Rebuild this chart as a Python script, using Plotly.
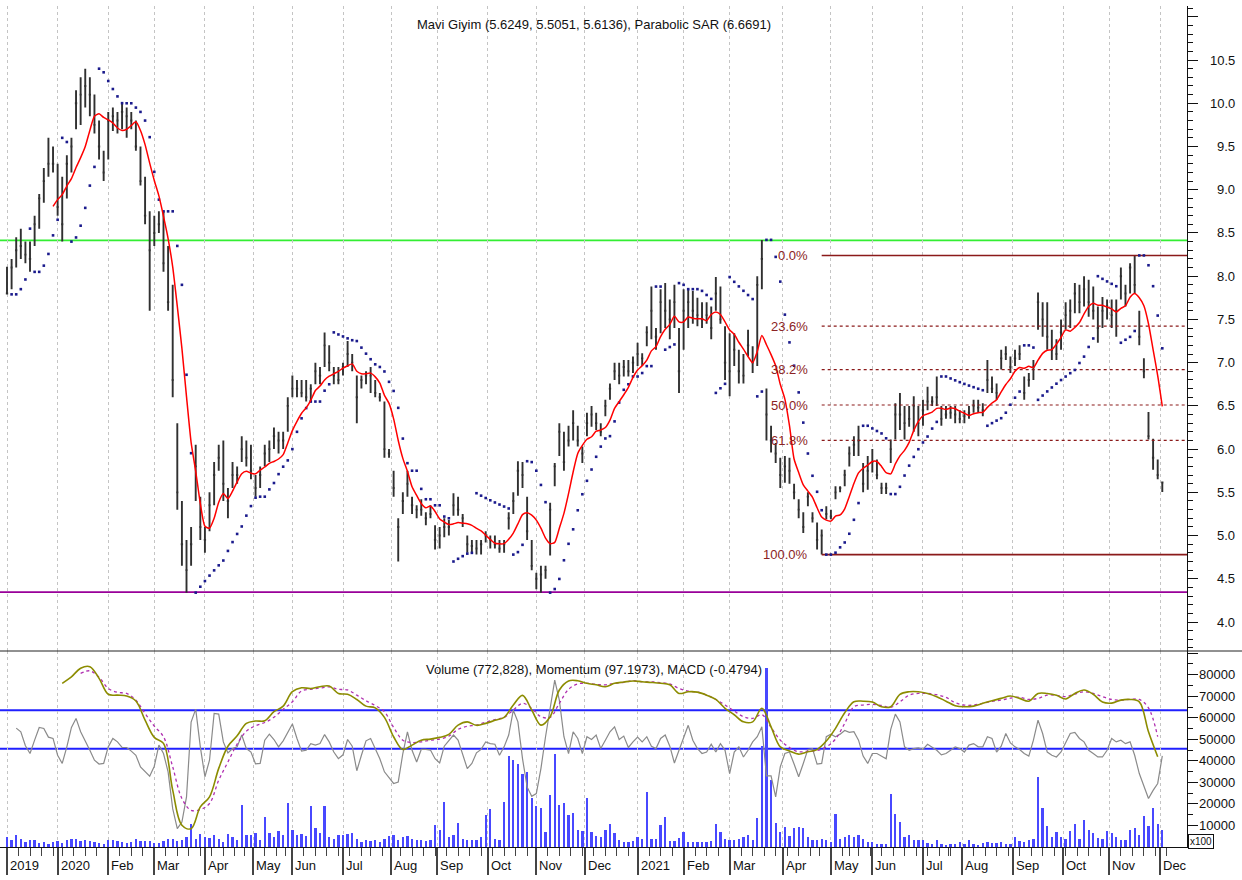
import numpy as np
import pandas as pd
import plotly.graph_objects as go

# ---------------- calendar (Borsa Istanbul trading days) ----------------
market_holidays = ["2020-01-01", "2020-04-23", "2020-05-01", "2020-05-19", "2020-05-25", "2020-05-26",
                   "2020-07-15", "2020-07-31", "2020-08-03", "2020-10-29", "2021-01-01", "2021-04-23",
                   "2021-05-13", "2021-05-14", "2021-05-19", "2021-07-15", "2021-07-20", "2021-07-21",
                   "2021-07-22", "2021-07-23", "2021-10-29"]
cal = pd.bdate_range("2019-12-02", "2021-12-10")
cal = cal[~cal.isin(pd.to_datetime(market_holidays))]
day_index = pd.Series(np.arange(len(cal)), index=cal)

month_labels = ["2019", "2020", "Feb", "Mar", "Apr", "May", "Jun", "Jul", "Aug", "Sep", "Oct", "Nov", "Dec",
                "2021", "Feb", "Mar", "Apr", "May", "Jun", "Jul", "Aug", "Sep", "Oct", "Nov", "Dec"]

# ---------------- price data (one bar every second trading day) ----------------
high = [8.11, 8.2, 8.45, 8.55, 8.4, 8.4, 8.7, 8.95, 9.25, 9.6,
        9.5, 9.3, 9.15, 9.4, 9.6, 10.15, 10.3, 10.4, 10.3, 10.1,
        9.8, 9.45, 9.9, 9.95, 9.9, 10.0, 9.95, 9.9, 9.8, 9.5,
        9.15, 8.75, 8.7, 8.75, 8.75, 8.35, 7.9, 6.3, 5.4, 4.95,
        5.1, 6.05, 5.45, 5.1, 5.5, 5.85, 6.05, 6.1, 5.55, 5.85,
        5.8, 6.15, 6.1, 6.05, 5.7, 5.8, 6.05, 6.1, 6.25, 6.2,
        6.2, 6.6, 6.85, 6.8, 6.8, 6.8, 6.75, 7.0, 6.95, 7.35,
        7.2, 6.95, 6.95, 7.0, 7.25, 7.1, 6.85, 6.85, 6.9, 6.95,
        6.8, 6.65, 6.55, 6.0, 5.75, 5.2, 5.5, 5.75, 5.45, 5.35,
        5.42, 5.27, 5.35, 5.12, 5.1, 5.2, 5.18, 5.49, 5.45, 5.25,
        5.0, 4.95, 4.95, 4.95, 5.05, 5.0, 5.0, 4.95, 4.95, 5.27,
        5.5, 5.86, 5.85, 5.45, 4.95, 4.57, 4.65, 4.65, 5.38, 5.84,
        6.3, 6.2, 6.27, 6.45, 6.27, 6.03, 6.42, 6.5, 6.42, 6.3,
        6.57, 6.76, 7.0, 7.0, 7.03, 7.03, 7.07, 7.23, 7.11, 7.42,
        7.88, 7.4, 7.85, 7.92, 7.73, 7.9, 7.4, 7.85, 7.85, 7.83,
        7.75, 7.7, 7.7, 7.65, 7.99, 7.88, 7.42, 7.34, 7.34, 7.15,
        7.1, 7.38, 7.19, 8.0, 8.42, 6.7, 6.27, 6.07, 5.9, 5.92,
        5.9, 5.6, 5.42, 5.27, 5.5, 5.27, 5.15, 5.07, 5.34, 5.3,
        5.57, 5.57, 5.76, 6.03, 6.15, 6.27, 5.84, 5.92, 6.0, 5.88,
        5.61, 5.61, 6.11, 6.53, 6.65, 6.5, 6.5, 6.61, 6.5, 6.57,
        6.72, 6.61, 6.84, 6.5, 6.5, 6.5, 6.5, 6.45, 6.45, 6.5,
        6.57, 6.57, 6.53, 7.03, 6.84, 6.76, 7.15, 7.19, 7.07, 7.15,
        7.2, 6.84, 6.88, 7.03, 7.81, 7.7, 7.7, 7.38, 7.27, 7.5,
        7.7, 7.73, 7.92, 7.9, 8.0, 7.96, 7.88, 7.65, 7.76, 7.73,
        7.73, 7.73, 8.1, 7.9, 8.15, 8.24, 7.6, 7.05, 6.43, 6.12,
        5.88, 5.6249]

low = [7.79, 7.85, 8.1, 8.2, 8.15, 8.05, 8.35, 8.55, 8.85, 9.15,
       9.2, 8.7, 8.4, 8.9, 9.2, 9.7, 9.75, 9.95, 9.85, 9.65,
       9.35, 9.1, 9.35, 9.68, 9.65, 9.7, 9.6, 9.7, 9.45, 9.05,
       8.6, 7.6, 8.35, 8.5, 8.05, 7.6, 6.6, 5.3, 4.65, 4.34,
       4.65, 5.4, 4.95, 4.8, 5.05, 5.35, 5.75, 5.4, 5.2, 5.55,
       5.6, 5.85, 5.8, 5.65, 5.45, 5.55, 5.8, 5.85, 6.0, 5.95,
       6.0, 6.2, 6.6, 6.6, 6.6, 6.55, 6.55, 6.75, 6.75, 6.95,
       6.9, 6.75, 6.75, 6.85, 6.95, 6.9, 6.3, 6.7, 6.75, 6.65,
       6.6, 6.55, 5.9, 5.9, 5.45, 4.7, 5.25, 5.45, 5.25, 5.2,
       5.23, 5.12, 5.2, 4.84, 4.85, 4.98, 5.0, 5.23, 5.23, 5.1,
       4.8, 4.8, 4.78, 4.78, 4.92, 4.85, 4.85, 4.8, 4.8, 5.07,
       5.25, 5.46, 5.55, 4.95, 4.6, 4.38, 4.34, 4.5, 4.77, 5.57,
       5.92, 5.75, 6.03, 6.1, 6.03, 5.84, 6.15, 6.26, 6.22, 6.15,
       6.38, 6.57, 6.8, 6.75, 6.84, 6.84, 6.88, 6.96, 6.96, 7.19,
       7.27, 7.15, 7.34, 7.4, 7.27, 7.4, 6.65, 7.15, 7.4, 7.45,
       7.42, 7.4, 7.45, 7.27, 7.6, 7.45, 6.8, 6.61, 6.96, 6.76,
       6.76, 7.07, 6.88, 6.96, 7.85, 6.1, 5.96, 5.84, 5.55, 5.61,
       5.6, 5.42, 5.2, 5.03, 5.34, 5.15, 4.84, 4.78, 5.19, 5.19,
       5.42, 5.5, 5.57, 5.8, 5.92, 5.92, 5.5, 5.53, 5.73, 5.65,
       5.48, 5.48, 5.84, 6.11, 6.22, 6.11, 6.26, 6.2, 6.15, 6.27,
       6.45, 6.5, 6.5, 6.27, 6.35, 6.35, 6.3, 6.3, 6.3, 6.35,
       6.42, 6.42, 6.38, 6.65, 6.65, 6.57, 6.92, 7.03, 6.88, 6.96,
       7.03, 6.57, 6.72, 6.8, 7.38, 7.3, 7.15, 7.03, 7.03, 7.15,
       7.38, 7.4, 7.57, 7.57, 7.65, 7.53, 7.5, 7.23, 7.4, 7.5,
       7.4, 7.3, 7.73, 7.65, 7.8, 7.8, 7.2, 6.82, 6.11, 5.76,
       5.65, 5.5051]

close = [7.8, 8.1, 8.3, 8.35, 8.25, 8.2, 8.6, 8.9, 9.1, 9.3,
         9.3, 8.8, 8.6, 9.3, 9.5, 10.0, 10.1, 10.2, 10.1, 9.75,
         9.5, 9.2, 9.8, 9.85, 9.8, 9.9, 9.85, 9.8, 9.5, 9.1,
         8.7, 8.3, 8.5, 8.6, 8.15, 7.7, 6.8, 5.5, 4.9, 4.6,
         4.9, 5.8, 5.1, 4.95, 5.35, 5.7, 5.9, 5.6, 5.4, 5.7,
         5.7, 6.0, 5.9, 5.75, 5.55, 5.7, 5.95, 6.0, 6.15, 6.1,
         6.1, 6.5, 6.7, 6.7, 6.65, 6.6, 6.7, 6.9, 6.85, 7.2,
         7.0, 6.85, 6.8, 6.95, 7.1, 7.0, 6.6, 6.8, 6.85, 6.85,
         6.65, 6.6, 6.0, 5.95, 5.55, 5.1, 5.4, 5.6, 5.35, 5.3,
         5.3, 5.2, 5.25, 4.95, 5.0, 5.1, 5.1, 5.35, 5.3, 5.2,
         4.9, 4.88, 4.85, 4.9, 5.0, 4.95, 4.9, 4.85, 4.9, 5.2,
         5.4, 5.75, 5.7, 5.05, 4.65, 4.5, 4.55, 4.6, 5.3, 5.8,
         6.2, 5.85, 6.1, 6.3, 6.1, 5.95, 6.3, 6.4, 6.3, 6.2,
         6.5, 6.7, 6.9, 6.85, 6.95, 6.9, 7.0, 7.1, 7.05, 7.35,
         7.6, 7.3, 7.7, 7.6, 7.5, 7.7, 6.9, 7.6, 7.7, 7.6,
         7.55, 7.5, 7.55, 7.4, 7.8, 7.5, 7.0, 6.9, 7.15, 6.9,
         6.85, 7.2, 7.0, 7.9, 8.2, 6.4, 6.1, 5.95, 5.7, 5.8,
         5.75, 5.5, 5.3, 5.1, 5.45, 5.2, 4.95, 5.0, 5.25, 5.22,
         5.5, 5.55, 5.7, 5.95, 6.05, 6.1, 5.6, 5.75, 5.85, 5.7,
         5.55, 5.55, 6.0, 6.4, 6.4, 6.3, 6.35, 6.5, 6.3, 6.45,
         6.55, 6.55, 6.6, 6.35, 6.4, 6.42, 6.4, 6.35, 6.38, 6.42,
         6.5, 6.48, 6.45, 6.8, 6.7, 6.65, 7.05, 7.1, 6.95, 7.05,
         7.1, 6.65, 6.8, 6.95, 7.7, 7.5, 7.3, 7.15, 7.1, 7.35,
         7.55, 7.6, 7.8, 7.7, 7.85, 7.7, 7.6, 7.4, 7.6, 7.65,
         7.55, 7.6, 8.0, 7.8, 8.1, 7.9, 7.3, 6.9, 6.15, 5.9,
         5.7, 5.6136]

volume = [4700, 3100, 5400, 3900, 2300, 3100, 3400, 2000, 2300, 1600,
          2300, 2800, 1900, 3400, 3600, 3900, 2600, 3100, 2600, 2300,
          1900, 1300, 3100, 3400, 2600, 2300, 2000, 2100, 3600, 2600,
          2800, 2600, 2000, 1900, 2600, 3900, 3900, 2600, 3100, 4700,
          10500, 3900, 5900, 4700, 4400, 5400, 3900, 2300, 5900, 4700,
          3100, 19700, 5400, 5400, 6700, 3100, 14000, 6500, 4700, 7400,
          5400, 20500, 7800, 5400, 6200, 5000, 19000, 8800, 6700, 19000,
          4700, 3900, 5400, 5400, 6200, 6500, 3900, 2300, 3400, 2600,
          3100, 2300, 3900, 5000, 5400, 3100, 4700, 5000, 3900, 3400,
          3100, 2600, 3100, 10000, 7700, 21000, 4700, 5400, 11200, 3600,
          3100, 3400, 3100, 4700, 14800, 17600, 3900, 3100, 21000, 42300,
          40400, 38400, 34000, 35000, 22800, 19000, 18200, 7000, 24300, 43400,
          19400, 20200, 14700, 16000, 7800, 7600, 22600, 7000, 5000, 4500,
          7800, 10500, 6500, 3100, 2500, 2500, 2800, 4500, 3500, 25700,
          3900, 3900, 10000, 14000, 3000, 3000, 4200, 7000, 2500, 2300,
          2300, 2300, 2500, 2800, 10500, 7000, 3900, 3400, 3100, 3900,
          4700, 5800, 3100, 13600, 46800, 83000, 31000, 11000, 7000, 9300,
          5000, 9000, 9300, 9000, 4700, 3100, 3400, 3600, 3100, 2300,
          15200, 3900, 4700, 5400, 4700, 5400, 3900, 2300, 2300, 1600,
          1600, 1300, 24800, 15500, 11800, 4700, 5400, 3100, 3400, 3400,
          1900, 1600, 3100, 1300, 900, 1300, 1600, 2300, 1600, 3100,
          1300, 900, 1900, 2100, 1900, 1900, 2300, 1600, 1300, 4700,
          2800, 2300, 3100, 3900, 32500, 18300, 9700, 4700, 7000, 4700,
          3600, 7300, 10500, 3600, 12600, 8000, 6700, 4400, 3900, 7300,
          6700, 4700, 3100, 3100, 7800, 9000, 5400, 14400, 9700, 18000,
          10500, 7728]

momentum = [None, None, 55200, 53500, 47000, 43400, 49600, 55500, 55000, 51000,
            50400, 42600, 38800, 46500, 55500, 59700, 53500, 48800, 44900, 40300,
            38500, 38800, 46500, 50400, 48800, 46200, 46200, 44500, 42600, 37200,
            34900, 32900, 37500, 47300, 43400, 34900, 17800, 8500, 11600, 23300,
            58000, 64000, 46500, 32600, 40300, 62000, 61700, 48800, 43700, 45700,
            46500, 52000, 45700, 44100, 38600, 38800, 49600, 52400, 49900, 46500,
            49300, 53500, 57100, 50400, 44500, 44900, 48000, 47300, 48000, 52200,
            48800, 44100, 41000, 42800, 49900, 46800, 35400, 42600, 49300, 50400,
            45300, 41000, 34900, 32300, 29500, 30200, 43400, 53500, 44900, 39500,
            45300, 45300, 45000, 41000, 39000, 46800, 49600, 52000, 49600, 43400,
            36400, 38800, 43700, 45300, 48800, 48000, 47700, 42600, 46500, 52000,
            63500, 58100, 41000, 27900, 23500, 24800, 36400, 51200, 65100, 77500,
            68200, 51200, 43400, 53500, 50400, 43400, 51200, 49900, 52000, 45700,
            49600, 53500, 55800, 49900, 51500, 46200, 48800, 51000, 48800, 51200,
            46800, 45700, 50400, 52000, 46800, 39000, 44900, 51200, 56500, 49600,
            45700, 43400, 44100, 47700, 44100, 48000, 44900, 34100, 44100, 46500,
            41800, 44900, 48800, 51200, 55800, 33000, 33000, 23300, 37200, 43400,
            44100, 38500, 32600, 38800, 45300, 45700, 38500, 38800, 51200, 52400,
            51200, 52400, 54100, 53200, 53500, 49600, 42200, 38800, 43400, 43400,
            42200, 41000, 54600, 61700, 58100, 46500, 44900, 45700, 46000, 45300,
            47700, 46200, 44900, 42800, 43400, 44900, 46500, 45700, 44100, 47300,
            48000, 46500, 46500, 51200, 50400, 44100, 46800, 52700, 48300, 46500,
            45300, 43400, 42200, 49600, 58900, 52700, 44100, 42600, 41800, 44100,
            48800, 52700, 53200, 50400, 48800, 44900, 43400, 41800, 41800, 44900,
            50400, 48800, 49600, 48000, 48800, 42600, 34100, 27900, 22500, 26300,
            29500, 42300]

# MACD and its signal, read every fourth trading day (from bars 12 and 16 onward)
macd = [76000, 79000, 83000, 83700, 78300, 70900, 70500, 70100, 67800, 58900,
        50900, 48100, 26400, 10100, 8500, 18600, 23300, 36500, 46800, 51600,
        57400, 58500, 58600, 62800, 65400, 72100, 73900, 73600, 74400, 74700,
        71300, 70900, 68500, 65400, 64600, 60200, 51200, 45300, 47300, 49600,
        50100, 50900, 52300, 56600, 58100, 56500, 57400, 58800, 60200, 65900,
        70400, 63600, 56600, 60500, 72900, 77100, 77200, 76000, 75300, 74400,
        76000, 76600, 77100, 76700, 76400, 76000, 75300, 71300, 72100, 71900,
        70500, 68500, 64400, 61400, 58100, 58100, 64400, 55800, 46500, 44600,
        43100, 44200, 45300, 49200, 55100, 62300, 67400, 67700, 67300, 65100,
        65100, 70900, 72100, 72100, 71300, 69800, 67700, 65600, 65100, 65400,
        66700, 67900, 69000, 70100, 69000, 67700, 71300, 71300, 70500, 68700,
        71300, 72900, 70900, 67300, 66800, 68200, 68500, 67400, 53500, 41900]

macd_signal = [80600, 81800, 78800, 73600, 71800, 71300, 68200, 62000, 56100, 51200,
               37200, 22500, 17000, 17400, 20200, 31000, 39500, 47800, 53800, 56300,
               57800, 60200, 63900, 67400, 72500, 73200, 73800, 74300, 73200, 72900,
               70500, 67900, 65700, 62800, 55500, 49600, 48500, 48800, 49600, 50100,
               51500, 54600, 56100, 56600, 58000, 59100, 60200, 63600, 66700, 64400,
               60500, 60200, 66700, 73200, 75700, 76000, 75500, 75300, 76000, 76400,
               77200, 76700, 76700, 76300, 75700, 73600, 72400, 71900, 70500, 68500,
               65900, 63100, 60500, 59700, 61400, 55500, 49600, 46200, 44200, 44500,
               44800, 46500, 50100, 57400, 65100, 65900, 66200, 65700, 64800, 67400,
               70500, 71300, 71300, 70700, 69500, 67000, 65900, 65900, 66700, 67600,
               68200, 69100, 69500, 68500, 69000, 70500, 70400, 69800, 71000, 72100,
               71300, 69800, 68500, 68200, 68500, 68500, 64600, 51200]

support_level = 4.345
resistance_level = 8.415
volume_ref_levels = [63500, 45600]
fib_ratios = [0.0, 0.236, 0.382, 0.5, 0.618, 1.0]
price_labels = [4.0, 4.5, 5.0, 5.5, 6.0, 6.5, 7.0, 7.5, 8.0, 8.5, 9.0, 9.5, 10.0, 10.5]
volume_labels = [10000, 20000, 30000, 40000, 50000, 60000, 70000, 80000]

title_top = "Mavi Giyim (5.6249, 5.5051, 5.6136), Parabolic SAR (6.6691)"
title_bottom = "Volume (772,828), Momentum (97.1973), MACD (-0.4794)"

# ---------------- derived positions / indicators ----------------
bar_dates = cal[0:2 * len(close):2]
x_bar = day_index[bar_dates].values
month_pos = day_index.groupby([day_index.index.year, day_index.index.month]).first().values
week_pos = day_index.groupby(day_index.index.to_period("W-SUN")).first().values

# moving average (7 bars of 2 trading days)
ma = pd.Series(close).rolling(7).mean()
ma[:10] = np.nan


def parabolic_sar(h, l, step=0.04, amax=0.4):
    n = len(h)
    out = [None] * n
    up = True
    af = step
    ep = h[0]
    s = l[0]
    for i in range(1, n):
        s = s + af * (ep - s)
        if up:
            s = min(s, l[i - 1], l[i - 2] if i > 1 else l[i - 1])
            if l[i] < s:
                up = False
                s = ep
                ep = l[i]
                af = step
            elif h[i] > ep:
                ep = h[i]
                af = min(af + step, amax)
        else:
            s = max(s, h[i - 1], h[i - 2] if i > 1 else h[i - 1])
            if h[i] > s:
                up = True
                s = ep
                ep = h[i]
                af = step
            elif l[i] < ep:
                ep = l[i]
                af = min(af + step, amax)
        out[i] = s
    return out


sar = parabolic_sar(high, low)

fib_lo_k = 150 + int(np.argmin(low[150:200]))
fib_hi_k = fib_lo_k + int(np.argmax(high[fib_lo_k:]))
fib_lo, fib_hi = low[fib_lo_k], high[fib_hi_k]
fib_x0 = x_bar[fib_lo_k]

# ---------------- geometry ----------------
W, H = 1242, 880
ML, MR, MT, MB = 0, 55, 6, 33
plot_w = W - ML - MR
plot_h = H - MT - MB
split = 196 / plot_h
px_per_day = 2.3014
x_range = [-7 / px_per_day, 501 + 27 / px_per_day]
price_range = [3.665, 11.125]
vol_range = [0, 91000]

FONT = "Liberation Sans, Arial, sans-serif"
DARKRED = "#8b2323"

fig = go.Figure()

# ---- price panel ----
for r in fib_ratios:
    lvl = fib_hi - r * (fib_hi - fib_lo)
    solid = r in (0.0, 1.0)
    fig.add_trace(go.Scatter(x=[fib_x0, x_range[1]], y=[lvl, lvl], mode="lines",
                             line=dict(color="#8b1a1a", width=1.6 if solid else 1.2,
                                       dash="solid" if solid else "dot"),
                             xaxis="x", yaxis="y", showlegend=False, hoverinfo="skip"))

fig.add_trace(go.Ohlc(x=x_bar, open=close, high=high, low=low, close=close, xaxis="x", yaxis="y",
                      increasing=dict(line=dict(color="#303030", width=1.9)),
                      decreasing=dict(line=dict(color="#303030", width=1.9)),
                      tickwidth=0.25, showlegend=False, hoverinfo="skip"))

fig.add_trace(go.Scatter(x=x_bar, y=sar, mode="markers", xaxis="x", yaxis="y",
                         marker=dict(symbol="square", size=2.6, color="#1a1a8c", line=dict(width=0)),
                         showlegend=False, hoverinfo="skip"))

fig.add_trace(go.Scatter(x=x_bar, y=ma, mode="lines", xaxis="x", yaxis="y",
                         line=dict(color="#ff0000", width=1.5, shape="spline", smoothing=0.6),
                         showlegend=False, hoverinfo="skip"))

# ---- lower panel ----
fig.add_trace(go.Bar(x=x_bar, y=volume, xaxis="x2", yaxis="y2", width=1.0,
                     marker=dict(color="#4848ff", line=dict(width=0)), showlegend=False, hoverinfo="skip"))

fig.add_trace(go.Scatter(x=x_bar, y=momentum, mode="lines", xaxis="x2", yaxis="y2",
                         line=dict(color="#8a8a8a", width=1.2), showlegend=False, hoverinfo="skip"))

fig.add_trace(go.Scatter(x=x_bar[16::2], y=macd_signal, mode="lines", xaxis="x2", yaxis="y2",
                         line=dict(color="#b030b0", width=1.3, dash="dot", shape="spline"),
                         showlegend=False, hoverinfo="skip"))

fig.add_trace(go.Scatter(x=x_bar[12::2], y=macd, mode="lines", xaxis="x2", yaxis="y2",
                         line=dict(color="#8c8c00", width=1.6, shape="spline"),
                         showlegend=False, hoverinfo="skip"))

shapes = []
shapes.append(dict(type="line", xref="paper", x0=0, x1=1, yref="y", y0=resistance_level, y1=resistance_level,
                   line=dict(color="#33ee33", width=1.8), layer="between"))
shapes.append(dict(type="line", xref="paper", x0=0, x1=1, yref="y", y0=support_level, y1=support_level,
                   line=dict(color="#990099", width=1.8), layer="between"))
for v in volume_ref_levels:
    shapes.append(dict(type="line", xref="paper", x0=0, x1=1, yref="y2", y0=v, y1=v,
                       line=dict(color="#2020ff", width=2), layer="between"))
# panel separator (full width)
shapes.append(dict(type="line", xref="paper", x0=0, x1=W / plot_w, yref="paper", y0=split, y1=split,
                   line=dict(color="#222222", width=1)))

annotations = []
annotations.append(dict(text=title_top, xref="paper", yref="paper", x=0.5, y=(847 - 25) / plot_h,
                        showarrow=False, xanchor="center", yanchor="middle",
                        font=dict(family=FONT, size=13, color="#111")))
annotations.append(dict(text=title_bottom, xref="paper", yref="paper", x=0.5, y=(847 - 669) / plot_h,
                        showarrow=False, xanchor="center", yanchor="middle",
                        font=dict(family=FONT, size=13, color="#111")))
lab_x = 1 + 50 / plot_w
for v in price_labels:
    annotations.append(dict(text=f"{v:.1f}", xref="paper", yref="y", x=lab_x, y=v, showarrow=False,
                            xanchor="right", yanchor="middle", font=dict(family=FONT, size=13, color="#111")))
for v in volume_labels:
    annotations.append(dict(text=f"{v}", xref="paper", yref="y2", x=lab_x, y=v, showarrow=False,
                            xanchor="right", yanchor="middle", font=dict(family=FONT, size=13, color="#111")))
for r in fib_ratios:
    lvl = fib_hi - r * (fib_hi - fib_lo)
    annotations.append(dict(text=f"{r * 100:.1f}%", xref="x", yref="y", x=fib_x0, y=lvl, showarrow=False,
                            xanchor="right", yanchor="middle", xshift=-12,
                            font=dict(family=FONT, size=13, color=DARKRED)))
for pos, lab in zip(month_pos, month_labels):
    annotations.append(dict(text=lab, xref="x2", yref="paper", x=pos, y=-18 / plot_h, showarrow=False,
                            xanchor="left", yanchor="middle", xshift=1,
                            font=dict(family=FONT, size=13, color="#111")))
annotations.append(dict(text="x100", xref="paper", yref="paper", x=1 + 14 / plot_w, y=(847 - 841) / plot_h,
                        showarrow=False, xanchor="center", yanchor="middle", bordercolor="#111",
                        borderwidth=1, borderpad=1, bgcolor="white",
                        font=dict(family=FONT, size=10, color="#111")))

grid = dict(showgrid=True, gridcolor="#c4c4c4", griddash="dot", gridwidth=1)

fig.update_layout(
    width=W, height=H,
    margin=dict(l=ML, r=MR, t=MT, b=MB),
    paper_bgcolor="white", plot_bgcolor="white",
    font=dict(family=FONT, size=13, color="#111"),
    showlegend=False, bargap=0,
    xaxis=dict(domain=[0, 1], anchor="y", range=x_range, tickmode="array", tickvals=month_pos,
               showticklabels=False, ticks="", zeroline=False, showline=False,
               rangeslider=dict(visible=False), fixedrange=True, **grid),
    xaxis2=dict(domain=[0, 1], anchor="y2", matches="x", range=x_range, tickmode="array", tickvals=month_pos,
                showticklabels=False, ticks="outside", ticklen=27, tickwidth=2, tickcolor="#444",
                showline=True, linecolor="#111", linewidth=1, zeroline=False,
                minor=dict(tickmode="array", tickvals=week_pos, ticks="outside", ticklen=8,
                           tickwidth=1, tickcolor="#444", showgrid=False),
                **grid),
    yaxis=dict(domain=[split, 1], anchor="x", side="right", range=price_range, tick0=0, dtick=0.5,
               ticks="outside", ticklen=10, tickcolor="#111", showticklabels=False, showgrid=False,
               zeroline=False, showline=True, linecolor="#111", linewidth=1,
               minor=dict(dtick=0.1, ticks="outside", ticklen=5, tickcolor="#111", showgrid=False)),
    yaxis2=dict(domain=[0, split], anchor="x2", side="right", range=vol_range, tick0=0, dtick=10000,
                ticks="outside", ticklen=10, tickcolor="#111", showticklabels=False, showgrid=False,
                zeroline=False, showline=True, linecolor="#111", linewidth=1,
                minor=dict(dtick=5000, ticks="outside", ticklen=5, tickcolor="#111", showgrid=False)),
    shapes=shapes,
    annotations=annotations,
)

fig.write_html("out.html")
